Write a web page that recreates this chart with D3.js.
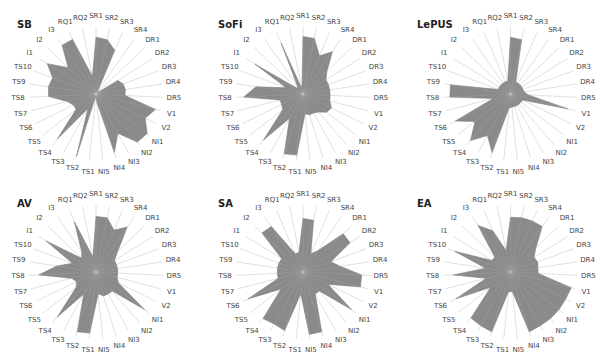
<!DOCTYPE html>
<html><head><meta charset="utf-8">
<script src="https://cdn.jsdelivr.net/npm/d3@7"></script>
<style>html,body{margin:0;padding:0;background:#fff}svg{display:block}</style>
</head><body>
<svg id="chart" width="596" height="354"></svg>
<script>
const categories = ["SR1","SR2","SR3","SR4","DR1","DR2","DR3","DR4","DR5","V1","V2",
  "NI1","NI2","NI3","NI4","NI5","TS1","TS2","TS3","TS4","TS5","TS6","TS7","TS8","TS9","TS10",
  "I1","I2","I3","RQ1","RQ2"];
const titles = ["SB","SoFi","LePUS","AV","SA","EA"];
const sb    = [86,84,72,3,3,39,44,45,44,93,83,98,96,68,93,12,3,99,25,90,38,38,45,72,73,70,87,58,90,90,27];
const sofi  = [87,86,63,78,50,41,41,41,41,42,48,45,36,33,33,30,93,95,42,92,39,36,36,90,72,27,86,12,15,84,8];
const lepus = [86,84,20,20,20,20,20,21,27,90,21,20,20,20,20,20,21,93,72,93,68,93,27,92,92,20,20,20,20,20,20];
const av    = [84,84,69,83,45,33,33,33,33,33,38,93,38,38,38,33,93,95,38,90,38,33,38,87,60,38,89,30,38,83,23];
const sa    = [81,80,30,39,84,84,45,57,89,90,42,93,38,38,95,95,33,93,90,93,42,93,39,39,39,39,38,86,84,30,30];
const ea    = [83,84,84,84,53,42,44,42,42,95,93,93,93,93,95,30,30,95,93,92,38,92,38,87,38,90,33,33,86,68,33];
const seriesList = [sb, sofi, lepus, av, sa, ea];

const colCenters = [96, 303, 510.5];
const rowCenters = [94, 272];
const titleX = [17, 218, 417];
const titleY = [24, 203.5];

const svg = d3.select("#chart");
const n = categories.length;
const angle = d3.scaleLinear().domain([0, n]).range([0, 2 * Math.PI]);
const r = d3.scaleLinear().domain([0, 100]).range([0, 66]);
const spokeLen = 67, labelR = 78;

const line = d3.lineRadial()
  .angle((d, i) => angle(i))
  .radius(d => r(d))
  .curve(d3.curveLinearClosed);

seriesList.forEach((vals, k) => {
  const col = k % 3, row = Math.floor(k / 3);
  const g = svg.append("g")
    .attr("transform", `translate(${colCenters[col]},${rowCenters[row]})`);

  g.selectAll("line.spoke").data(categories).join("line")
    .attr("class", "spoke")
    .attr("x1", 0).attr("y1", 0)
    .attr("x2", (d, i) => spokeLen * Math.sin(angle(i)))
    .attr("y2", (d, i) => -spokeLen * Math.cos(angle(i)))
    .attr("stroke", "#dcdcdc").attr("stroke-width", 0.9);

  g.append("path").datum(vals)
    .attr("d", line)
    .attr("fill", "#8a8a8a")
    .attr("stroke", "#808080").attr("stroke-width", 0.6);

  g.selectAll("line.over").data(categories).join("line")
    .attr("class", "over")
    .attr("x1", 0).attr("y1", 0)
    .attr("x2", (d, i) => r(vals[i]) * Math.sin(angle(i)))
    .attr("y2", (d, i) => -r(vals[i]) * Math.cos(angle(i)))
    .attr("stroke", "#ffffff").attr("stroke-opacity", 0.12).attr("stroke-width", 0.8);

  g.selectAll("text.lab").data(categories).join("text")
    .attr("class", "lab")
    .attr("x", (d, i) => labelR * Math.sin(angle(i)))
    .attr("y", (d, i) => -labelR * Math.cos(angle(i)))
    .attr("text-anchor", "middle")
    .attr("dominant-baseline", "central")
    .attr("font-family", "DejaVu Sans, sans-serif")
    .attr("font-size", 7)
    .attr("fill", "#444")
    .text(d => d);

  svg.append("text")
    .attr("x", titleX[col]).attr("y", titleY[row])
    .attr("dominant-baseline", "central")
    .attr("font-family", "DejaVu Sans, sans-serif")
    .attr("font-weight", "bold")
    .attr("font-size", 10)
    .attr("fill", "#222")
    .text(titles[k]);
});
</script>
</body></html>
